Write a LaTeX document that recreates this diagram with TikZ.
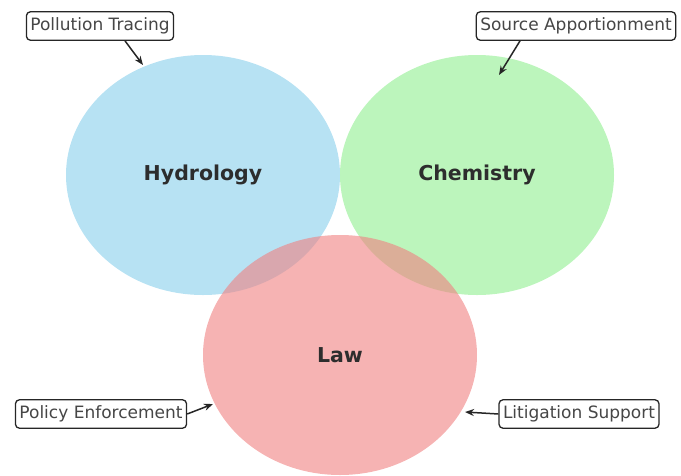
\documentclass[tikz,border=0pt]{standalone}
\usepackage{fontspec}
\setmainfont{DejaVu Sans}
\usetikzlibrary{arrows.meta}
\definecolor{cblue}{RGB}{135,206,235}
\definecolor{cgreen}{RGB}{144,238,144}
\definecolor{cred}{RGB}{240,128,128}
\definecolor{txt}{RGB}{45,45,45}
\definecolor{lbl}{RGB}{70,70,70}
\tikzset{
  setc/.style={fill opacity=0.6, draw=none},
  settext/.style={font=\fontsize{20.5}{24}\selectfont\bfseries, text=txt},
  callout/.style={draw=black!85, line width=1.3pt, rounded corners=4pt, fill=white, text=lbl, font=\fontsize{17}{20}\selectfont, inner xsep=4pt, inner ysep=6pt},
  pointer/.style={-{Stealth[length=9pt,width=7pt]}, line width=1.5pt, black!85}
}
\begin{document}
\begin{tikzpicture}[x=1pt,y=-1pt]
\useasboundingbox (0,0) rectangle (681,475);
\fill[cblue,setc] (203,175) ellipse [x radius=137, y radius=120];
\fill[cgreen,setc] (477,175) ellipse [x radius=137, y radius=120];
\fill[cred,setc] (340,355) ellipse [x radius=137, y radius=120];
\node[settext] (hyd) at (203,175) {Hydrology};
\node[settext] (chem) at (477,175) {Chemistry};
\node[settext] (law) at (340,355) {Law};
\node[callout] (pt) at (100,26) {Pollution Tracing};
\node[callout] (sa) at (576,26) {Source Apportionment};
\node[callout] (pe) at (101,414) {Policy Enforcement};
\node[callout] (ls) at (579,414) {Litigation Support};
\coordinate (ptE) at (143,65);
\coordinate (saE) at (499,75);
\coordinate (peE) at (213,404);
\coordinate (lsE) at (465,412);
\draw[pointer] (pt.south -| 125,0) -- (ptE);
\draw[pointer] (sa.south -| 520,0) -- (saE);
\draw[pointer] (pe.east) -- (peE);
\draw[pointer] (ls.west) -- (lsE);
\end{tikzpicture}
\end{document}
